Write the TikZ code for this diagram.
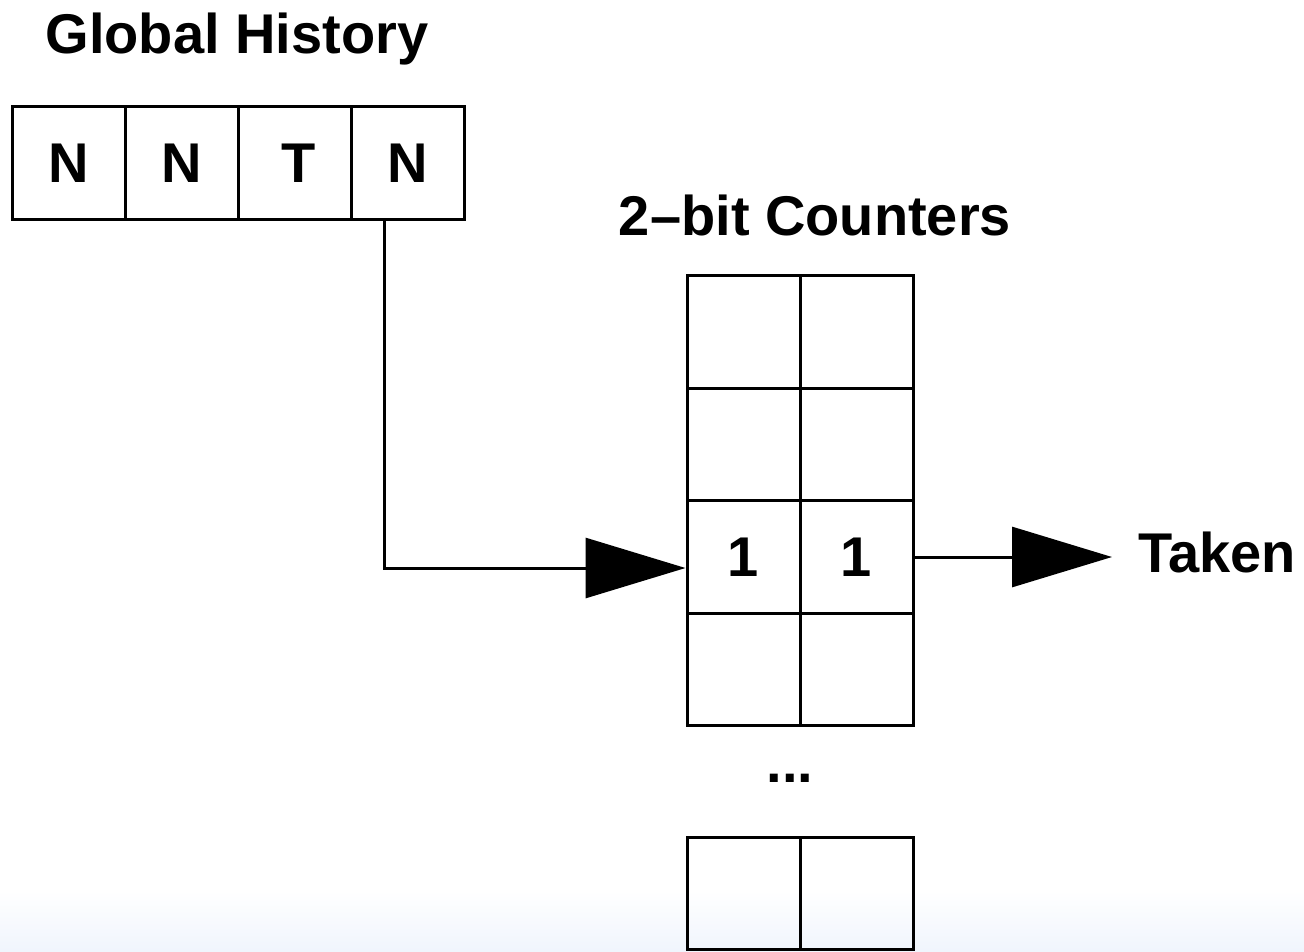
\documentclass[tikz,border=0pt]{standalone}
\usepackage{fontspec}
\setmainfont{Liberation Sans}
\usepackage{tikz}
\usetikzlibrary{arrows.meta}

\tikzset{
  cell/.style={draw, line width=3pt, minimum width=113pt, minimum height=112.5pt, inner sep=0pt, font=\bigbold},
  label/.style={inner sep=0pt, font=\bigbold},
  bigarrow/.style={line width=3pt, -{Triangle[length=100pt, width=60pt]}}
}
\newcommand{\bigbold}{\fontsize{56}{62}\selectfont\bfseries}

\begin{document}
\begin{tikzpicture}[x=1pt, y=-1pt]
        \useasboundingbox (0,0) rectangle (1304,951);
        \shade[top color=white, bottom color={rgb,255:red,240;green,245;blue,253}] (0,890) rectangle (1304,951);
        % global history register
        \node[label] (ghtitle) at (237,39) {Global History};
        \node[cell] (h1) at (68.5,163) {N};
        \node[cell] (h2) at (181.5,163) {N};
        \node[cell] (h3) at (294.5,163) {\hspace{8pt}T};
        \node[cell] (h4) at (407.5,163) {N};
        % counter table
        \node[label] (cttitle) at (815,215) {2--bit Counters};
        \node[cell] (c1a) at (743.5,332) {};
        \node[cell] (c1b) at (856.5,332) {};
        \node[cell] (c2a) at (743.5,444.5) {};
        \node[cell] (c2b) at (856.5,444.5) {};
        \node[cell] (c3a) at (743.5,557) {1};
        \node[cell] (c3b) at (856.5,557) {1};
        \node[cell] (c4a) at (743.5,669.5) {};
        \node[cell] (c4b) at (856.5,669.5) {};
        \node[label] (dots) at (790,778) {...};
        \node[cell] (c5a) at (743.5,893.5) {};
        \node[cell] (c5b) at (856.5,893.5) {};
        \node[label, anchor=west] (taken) at (1138,552) {Taken};
        % index and prediction
        \coordinate (tap) at (384,219);
        \coordinate (predtip) at (1112,557);
        \draw[bigarrow] (tap) |- ([yshift=-11pt]c3a.west);
        \draw[bigarrow] (c3b.east) -- (predtip);
\end{tikzpicture}
\end{document}
